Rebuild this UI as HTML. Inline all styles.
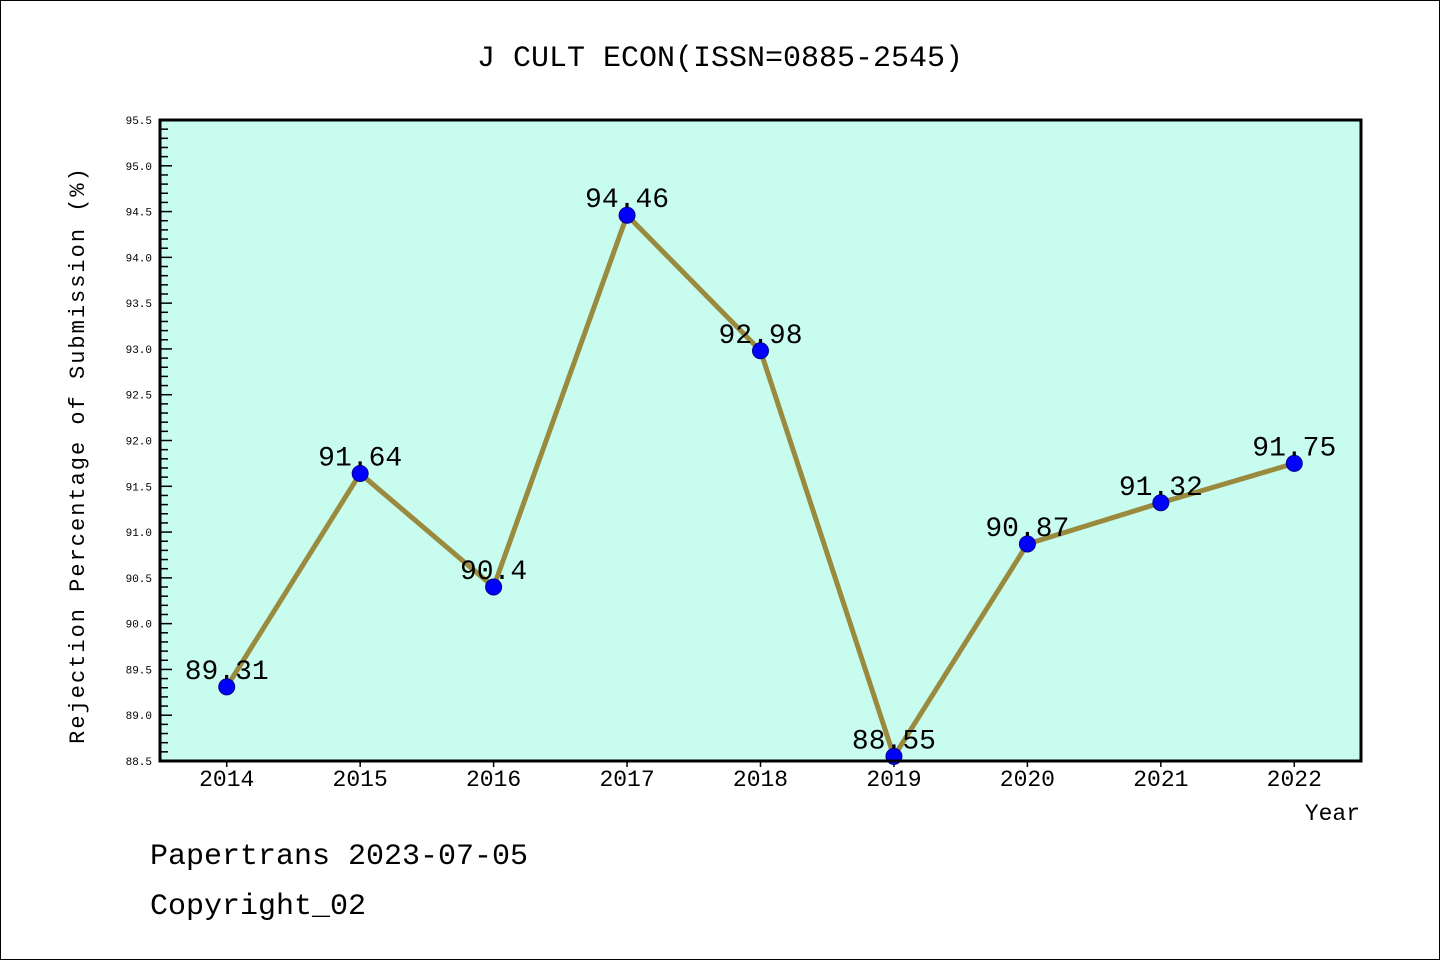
<!DOCTYPE html>
<html><head><meta charset="utf-8"><style>
body{margin:0;background:#fff}
svg text{font-family:"WenQuanYi Zen Hei Mono","WenQuanYi Zen Hei","Liberation Mono",monospace;fill:#000}
</style></head><body>
<svg width="1440" height="960" xmlns="http://www.w3.org/2000/svg">
<rect x="0.5" y="0.5" width="1439" height="959" fill="#fff" stroke="#000"/>
<text x="720" y="66" font-size="30" text-anchor="middle">J CULT ECON(ISSN=0885-2545)</text>
<rect x="160" y="120" width="1201" height="641" fill="#c8fcef"/>
<g id="yaxis"></g>
<g id="xaxis"></g>
<g id="series"></g>
<rect x="160" y="120" width="1201" height="641" fill="none" stroke="#000" stroke-width="3"/>
<text transform="translate(84,455) rotate(-90)" font-size="22" text-anchor="middle" letter-spacing="2">Rejection Percentage of Submission (%)</text>
<text x="1360" y="820" font-size="23" text-anchor="end">Year</text>
<text x="150" y="864" font-size="30">Papertrans 2023-07-05</text>
<text x="150" y="914" font-size="30">Copyright_02</text>
</svg>
<script>
const years=["2014","2015","2016","2017","2018","2019","2020","2021","2022"];
const rates=[89.31,91.64,90.4,94.46,92.98,88.55,90.87,91.32,91.75];
const labels=["89.31","91.64","90.4","94.46","92.98","88.55","90.87","91.32","91.75"];
const yTicks=["88.5","89.0","89.5","90.0","90.5","91.0","91.5","92.0","92.5","93.0","93.5","94.0","94.5","95.0","95.5"];
const NS="http://www.w3.org/2000/svg";
const X0=160,X1=1361,Y0=761,Y1=120,YMIN=88.5,YMAX=95.5;
const xs=i=>X0+(i+0.5)*(X1-X0)/years.length;
const ys=v=>Y0-(v-YMIN)/(YMAX-YMIN)*(Y0-Y1);
function mk(t,a,p){const e=document.createElementNS(NS,t);for(const k in a)e.setAttribute(k,a[k]);p.appendChild(e);return e;}
const ya=document.getElementById('yaxis'),xa=document.getElementById('xaxis'),sg=document.getElementById('series');
for(let k=0;k<=70;k++){const v=YMIN+k*0.1;const y=ys(v);const major=k%5===0;
 const t=mk('line',{x1:X0,x2:X0+(major?12:8),y1:y,y2:y,stroke:'#000','stroke-width':1.5},ya);
 
 }
yTicks.forEach(s=>{const y=ys(parseFloat(s));const t=mk('text',{x:152,y:y+4,'font-size':11,'text-anchor':'end'},ya);t.textContent=s;
 
 });
years.forEach((s,i)=>{const x=xs(i);
 const l=mk('line',{x1:x,x2:x,y1:Y0,y2:Y0+6,stroke:'#000','stroke-width':1.5},xa);
 
 
 const t=mk('text',{x:x,y:786,'font-size':23,'text-anchor':'middle'},xa);t.textContent=s;
 
 });
const pl=mk('polyline',{points:rates.map((v,i)=>xs(i)+','+ys(v)).join(' '),fill:'none',stroke:'#9a8a3e','stroke-width':5,'stroke-linejoin':'round'},sg);


rates.forEach((v,i)=>{
 const c=mk('circle',{cx:xs(i),cy:ys(v),r:8,fill:'#0000ff',stroke:'#00008b','stroke-width':1},sg);
 
 
 const t=mk('text',{x:xs(i),y:ys(v)-8,'font-size':28,'text-anchor':'middle'},sg);t.textContent=labels[i];
 
 });
</script>
</body></html>
